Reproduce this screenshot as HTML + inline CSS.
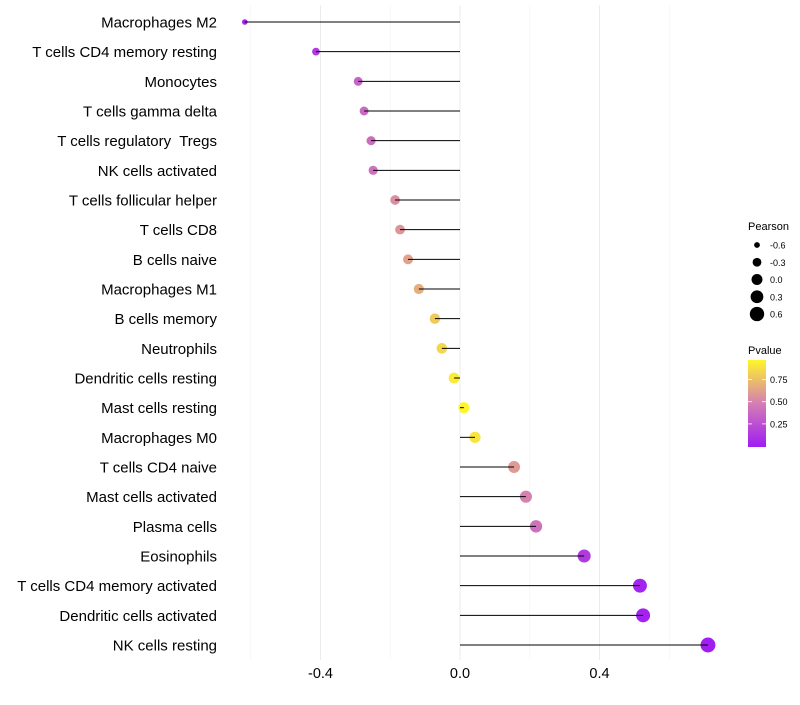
<!DOCTYPE html>
<html><head><meta charset="utf-8"><style>
body{margin:0;background:#fff;}
svg text{font-family:"Liberation Sans",sans-serif;}
</style></head><body>
<svg id="chart" width="800" height="700" xmlns="http://www.w3.org/2000/svg">
<defs><linearGradient id="pg" x1="0" y1="1" x2="0" y2="0">
<stop offset="0" stop-color="#a01cf4"/><stop offset="0.5" stop-color="#d47eb4"/><stop offset="1" stop-color="#fff52a"/></linearGradient></defs>
<g id="grid"></g>
<g id="marks"></g>
<g id="ylab"></g>
<g id="xlab"></g>
<g id="legP">
<text x="748" y="230" font-size="11" fill="#000">Pearson</text>
</g>
<g>
<text x="748" y="354" font-size="11" fill="#000">Pvalue</text>
<rect x="748" y="360" width="18" height="87" fill="url(#pg)"/>
<g id="legC"></g>
</g>
</svg>
<script>
const cells = ["Macrophages M2","T cells CD4 memory resting","Monocytes","T cells gamma delta","T cells regulatory  Tregs","NK cells activated","T cells follicular helper","T cells CD8","B cells naive","Macrophages M1","B cells memory","Neutrophils","Dendritic cells resting","Mast cells resting","Macrophages M0","T cells CD4 naive","Mast cells activated","Plasma cells","Eosinophils","T cells CD4 memory activated","Dendritic cells activated","NK cells resting"];
const pearson = [-0.617,-0.413,-0.292,-0.275,-0.255,-0.249,-0.186,-0.172,-0.149,-0.118,-0.072,-0.052,-0.017,0.011,0.043,0.155,0.189,0.218,0.356,0.516,0.525,0.711];
const pvalue = [0.03,0.15,0.35,0.38,0.4,0.42,0.55,0.58,0.63,0.68,0.8,0.85,0.93,0.97,0.9,0.6,0.5,0.42,0.15,0.04,0.03,0.01];
const xTicks = [-0.4,0.0,0.4];
const xTickLabels = ["-0.4","0.0","0.4"];
const xMinor = [-0.6,-0.2,0.2,0.6];
const sizeBreaks = [-0.6,-0.3,0.0,0.3,0.6];
const sizeLabels = ["-0.6","-0.3","0.0","0.3","0.6"];
const colorBreaks = [0.25,0.5,0.75];
const colorLabels = ["0.25","0.50","0.75"];

const NS="http://www.w3.org/2000/svg";
const x = v => 460 + v*348.75;
const y = i => 22 + i*29.667;
const r = v => Math.sqrt(Math.max(3, 30 + 36*v));
const cy = p => 447 - (p+0.01)*88.8;
function lerp(a,b,t){return a.map((c,i)=>Math.round(c+(b[i]-c)*t));}
function col(p){
  const lo=[160,28,244], mid=[212,126,180], hi=[255,245,42];
  const t=Math.max(0,Math.min(1,p/0.97));
  const c = t<0.5 ? lerp(lo,mid,t*2) : lerp(mid,hi,(t-0.5)*2);
  return `rgb(${c[0]},${c[1]},${c[2]})`;
}
function mk(tag,attrs,parent,txt){const e=document.createElementNS(NS,tag);for(const k in attrs)e.setAttribute(k,attrs[k]);if(txt!==undefined)e.textContent=txt;parent.appendChild(e);return e;}
const grid=document.getElementById('grid'),marks=document.getElementById('marks'),ylab=document.getElementById('ylab'),xlab=document.getElementById('xlab');
xMinor.forEach(v=>{const l=mk('line',{x1:x(v),x2:x(v),y1:5,y2:660,stroke:'#f4f4f4','stroke-width':0.6},grid);

});
xTicks.forEach((v,i)=>{const l=mk('line',{x1:x(v),x2:x(v),y1:5,y2:660,stroke:'#ebebeb','stroke-width':1},grid);


const t=mk('text',{x:x(v),y:678,'font-size':14.5,'text-anchor':'middle',fill:'#000'},xlab,xTickLabels[i]);

});
cells.forEach((c,i)=>{
  const yy=y(i),v=pearson[i];
  const d=mk('circle',{cx:x(v),cy:yy,r:r(v),fill:col(pvalue[i])},marks);
  
  
  const s=mk('line',{x1:x(0),x2:x(v),y1:yy,y2:yy,stroke:'#000','stroke-width':1},marks);
  
  
  const t=mk('text',{x:217,y:yy+5.5,'font-size':15,'text-anchor':'end',fill:'#000'},ylab,c.replace(/  /g,'\u00a0 '));
  
  
});
const legP=document.getElementById('legP');
sizeBreaks.forEach((v,i)=>{const yy=245+i*17.25;
const d=mk('circle',{cx:757,cy:yy,r:r(v),fill:'#000'},legP);


const t=mk('text',{x:770,y:yy+3.5,'font-size':9,fill:'#000'},legP,sizeLabels[i]);

});
const legC=document.getElementById('legC');
colorBreaks.forEach((p,i)=>{const yy=cy(p);
const l=mk('line',{x1:748,x2:752,y1:yy,y2:yy,stroke:'#fff','stroke-width':0.8},legC);


const l2=mk('line',{x1:762,x2:766,y1:yy,y2:yy,stroke:'#fff','stroke-width':0.8},legC);


const t=mk('text',{x:770,y:yy+3.5,'font-size':9,fill:'#000'},legC,colorLabels[i]);

});
</script>
</body></html>
